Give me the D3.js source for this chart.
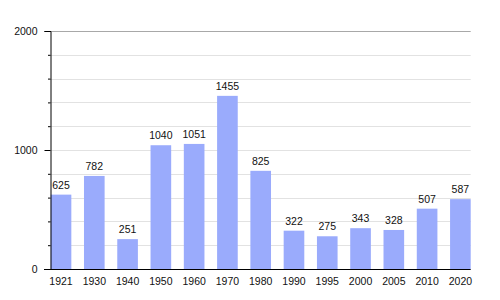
<!DOCTYPE html>
<html>
<head>
<meta charset="utf-8">
<script src="https://cdn.jsdelivr.net/npm/d3@7"></script>
<style>
  body { margin: 0; background: #fff; }
  svg { display: block; font-family: "Liberation Sans", Arial, sans-serif; }
</style>
</head>
<body>
<div class="chart"></div>
<script>
const years = ["1921", "1930", "1940", "1950", "1960", "1970", "1980", "1990", "1995", "2000", "2005", "2010", "2020"];
const population = [625, 782, 251, 1040, 1051, 1455, 825, 322, 275, 343, 328, 507, 587];
const yLabels = [0, 1000, 2000];
const yMinor = [200, 400, 600, 800, 1200, 1400, 1600, 1800];

const w = 500;
const h = 300;
const plotLeft = 50;
const plotRight = 470.7;
const plotTop = 31;
const plotBottom = 269;
const fontSize = 10.5;

const svg = d3.select(".chart")
  .append("svg")
  .attr("width", w)
  .attr("height", h);

const xScale = d3.scaleBand()
  .domain(years)
  .range([plotLeft + 0.7, plotRight])
  .paddingInner(0.38)
  .paddingOuter(0);

const yScale = d3.scaleLinear()
  .domain([0, 2000])
  .range([plotBottom, plotTop]);

// grid lines
svg.append("g")
  .selectAll("line")
  .data(yMinor.concat([1000]))
  .enter()
  .append("line")
  .attr("x1", plotLeft)
  .attr("x2", plotRight)
  .attr("y1", (d) => Math.round(yScale(d)) + 0.5)
  .attr("y2", (d) => Math.round(yScale(d)) + 0.5)
  .attr("stroke", "#e2e2e2")
  .attr("stroke-width", 1);

svg.append("line")
  .attr("x1", plotLeft)
  .attr("x2", plotRight)
  .attr("y1", Math.round(yScale(2000)) + 0.5)
  .attr("y2", Math.round(yScale(2000)) + 0.5)
  .attr("stroke", "#a8a8a8");

// bars
svg.append("g")
  .selectAll("rect")
  .data(population)
  .enter()
  .append("rect")
  .attr("x", (d, i) => xScale(years[i]))
  .attr("width", xScale.bandwidth())
  .attr("y", (d) => yScale(d))
  .attr("height", (d) => plotBottom - yScale(d))
  .attr("fill", "#9aabfc");

// value labels
svg.append("g")
  .selectAll("text")
  .data(population)
  .enter()
  .append("text")
  .attr("x", (d, i) => xScale(years[i]) + xScale.bandwidth() / 2)
  .attr("y", (d) => yScale(d) - 6)
  .attr("text-anchor", "middle")
  .attr("font-size", fontSize)
  .attr("fill", "#111")
  .text((d) => d);

// y axis
const yAxis = d3.axisLeft(yScale)
  .tickValues(yLabels)
  .tickSize(6)
  .tickPadding(7)
  .tickFormat(d3.format("d"));

const yG = svg.append("g")
  .attr("transform", `translate(${plotLeft + 0.5},0)`)
  .call(yAxis);
yG.select(".domain").attr("stroke", "#000");
yG.selectAll(".tick text").attr("font-size", fontSize).attr("fill", "#111").style("font-family", "Liberation Sans, Arial, sans-serif");

svg.append("g")
  .attr("transform", `translate(${plotLeft + 0.5},0)`)
  .call(d3.axisLeft(yScale).tickValues(yMinor).tickSize(2.5).tickFormat(""))
  .select(".domain").remove();

// x axis
const xAxis = d3.axisBottom(xScale).tickSize(0).tickPadding(8);
const xG = svg.append("g")
  .attr("transform", `translate(0,${plotBottom + 0.5})`)
  .call(xAxis);
xG.select(".domain").attr("d", `M${plotLeft - 6},0H${plotRight}`).attr("stroke", "#000");
xG.selectAll(".tick text").attr("font-size", fontSize).attr("fill", "#111").style("font-family", "Liberation Sans, Arial, sans-serif");
</script>
</body>
</html>
